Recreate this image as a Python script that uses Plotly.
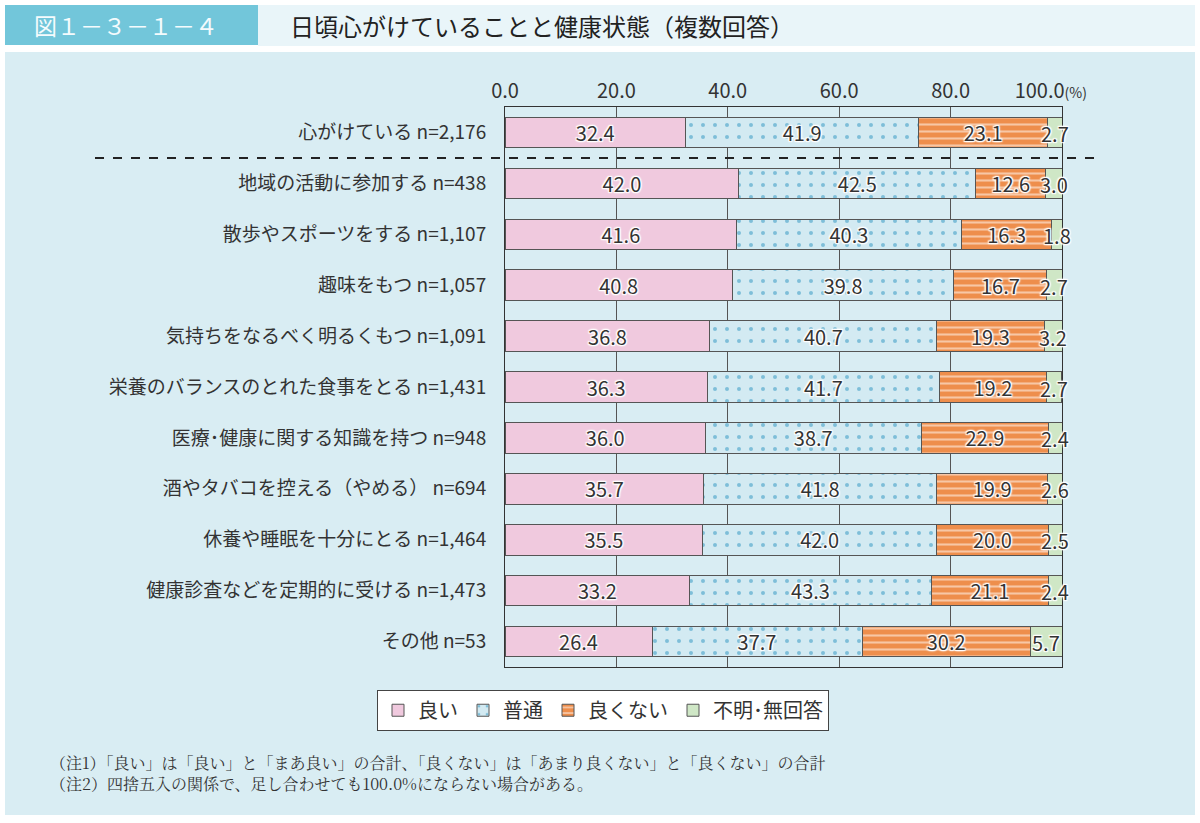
import plotly.graph_objects as go

categories = [
    "心がけている n=2,176",
    "地域の活動に参加する n=438",
    "散歩やスポーツをする n=1,107",
    "趣味をもつ n=1,057",
    "気持ちをなるべく明るくもつ n=1,091",
    "栄養のバランスのとれた食事をとる n=1,431",
    "医療･健康に関する知識を持つ n=948",
    "酒やタバコを控える（やめる） n=694",
    "休養や睡眠を十分にとる n=1,464",
    "健康診査などを定期的に受ける n=1,473",
    "その他 n=53",
]
good = [32.4, 42.0, 41.6, 40.8, 36.8, 36.3, 36.0, 35.7, 35.5, 33.2, 26.4]
normal = [41.9, 42.5, 40.3, 39.8, 40.7, 41.7, 38.7, 41.8, 42.0, 43.3, 37.7]
bad = [23.1, 12.6, 16.3, 16.7, 19.3, 19.2, 22.9, 19.9, 20.0, 21.1, 30.2]
unknown = [2.7, 3.0, 1.8, 2.7, 3.2, 2.7, 2.4, 2.6, 2.5, 2.4, 5.7]
series_names = ["良い", "普通", "良くない", "不明･無回答"]
tick_vals = [0, 20, 40, 60, 80, 100]
tick_text = ["0.0", "20.0", "40.0", "60.0", "80.0",
             "100.0<span style='font-size:14px'>(%)</span>\u00a0\u00a0\u00a0\u00a0\u00a0"]

FONT = "Noto Sans CJK JP"
W, H = 1200, 823
L, R, T, B = 505, 138, 107, 156

shadow = ("1px 1px 1px white, -1px -1px 1px white, 1px -1px 1px white, "
          "-1px 1px 1px white, 0 0 3px white, 0 0 3px white")
label_font = dict(family=FONT, size=20, color="#333333", shadow=shadow)

styles = [
    dict(color="#f0c9de", pattern=None),
    dict(color="#d3eaf2", pattern=dict(shape=".", fgcolor="#2a92bd", bgcolor="#d3eaf2",
                                       size=12, solidity=0.09, fillmode="overlay")),
    dict(color="#ee8e4c", pattern=dict(shape="-", fgcolor="#ffffff", bgcolor="#ee8e4c",
                                       size=7, solidity=0.3, fillmode="overlay")),
    dict(color="#cfe7c6", pattern=None),
]

fig = go.Figure()
all_vals = [good, normal, bad, unknown]
for i, (name, vals, st) in enumerate(zip(series_names, all_vals, styles)):
    marker = dict(color=st["color"], line=dict(color="#555555", width=1))
    if st["pattern"]:
        marker["pattern"] = st["pattern"]
    last = i == len(all_vals) - 1
    fig.add_trace(go.Bar(
        name=name, y=categories, x=vals, orientation="h",
        marker=marker, width=0.6,
        text=None if last else [f"{v:.1f}" for v in vals],
        textposition="inside",
        insidetextanchor="middle", constraintext="none", cliponaxis=False,
        textfont=label_font, textangle=0,
    ))

fig.update_layout(
    width=W, height=H, barmode="stack",
    margin=dict(l=L, r=R, t=T, b=B),
    paper_bgcolor="#ffffff", plot_bgcolor="#ffffff",
    font=dict(family=FONT, color="#333333"),
    xaxis=dict(range=[0, 100], side="top", tickvals=tick_vals, ticktext=tick_text,
               tickfont=dict(size=20, color="#333333"), showgrid=True, gridcolor="#555555",
               gridwidth=1, showline=True, linecolor="#333333", mirror=True, zeroline=False,
               ticks="", fixedrange=True),
    yaxis=dict(categoryorder="array", categoryarray=categories, autorange="reversed",
               tickfont=dict(size=19, color="#333333"), showline=True, linecolor="#333333",
               mirror=True, ticks="", ticklabelstandoff=14, showgrid=False),
    legend=dict(orientation="h", xref="container", yref="container", x=0.5025, y=0.137,
                xanchor="center", yanchor="middle", bgcolor="#ffffff",
                bordercolor="#444444", borderwidth=1, font=dict(size=20, color="#333333"),
                itemwidth=30, traceorder="normal", entrywidth=0),
    showlegend=True,
)


def px_x(p):
    return (p - L) / (W - L - R)


def px_y(p):
    return 1 - (p - T) / (H - T - B)


shapes = [
    # blue panel
    dict(type="rect", xref="paper", yref="paper",
         x0=px_x(5), x1=px_x(1195), y0=px_y(815), y1=px_y(52),
         fillcolor="#d9edf3", line=dict(width=0), layer="below"),
    # header strip
    dict(type="rect", xref="paper", yref="paper",
         x0=px_x(258), x1=px_x(1195), y0=px_y(46), y1=px_y(5),
         fillcolor="#e9f5f9", line=dict(width=0), layer="below"),
    # header teal box
    dict(type="rect", xref="paper", yref="paper",
         x0=px_x(5), x1=px_x(258), y0=px_y(45), y1=px_y(5),
         fillcolor="#72c6da", line=dict(width=0), layer="below"),
    # dashed separator
    dict(type="line", xref="paper", yref="y",
         x0=px_x(95), x1=px_x(1103), y0=0.5, y1=0.5,
         line=dict(color="#222222", width=2, dash="dash"), layer="above"),
]
fig.update_layout(shapes=shapes)

annotations = [
    dict(text="図１－３－１－４", x=px_x(32), y=px_y(25), xref="paper", yref="paper",
         xanchor="left", yanchor="middle", showarrow=False,
         font=dict(size=23, color="#f4fbfd", family=FONT)),
    dict(text="日頃心がけていることと健康状態（複数回答）", x=px_x(288), y=px_y(25),
         xref="paper", yref="paper", xanchor="left", yanchor="middle", showarrow=False,
         font=dict(size=24, color="#222222", family=FONT)),
    dict(text="（注1）「良い」は「良い」と「まあ良い」の合計、「良くない」は「あまり良くない」と「良くない」の合計"
              "<br>（注2）四捨五入の関係で、足し合わせても100.0%にならない場合がある。",
         x=px_x(48), y=px_y(773), xref="paper", yref="paper", xanchor="left", yanchor="middle",
         align="left", showarrow=False,
         font=dict(size=16, color="#333333", family="Noto Serif CJK JP, Noto Sans CJK JP")),
]

# labels for the thin last segment, centred on its midpoint (computed from data)
for cat, g, n, b, u in zip(categories, good, normal, bad, unknown):
    annotations.append(dict(
        text=f"{u:.1f}", x=g + n + b + u / 2, y=cat, xref="x", yref="y",
        xanchor="center", yanchor="middle", showarrow=False, yshift=-1,
        font=label_font,
    ))
fig.update_layout(annotations=annotations)

fig.write_html("out.html")
